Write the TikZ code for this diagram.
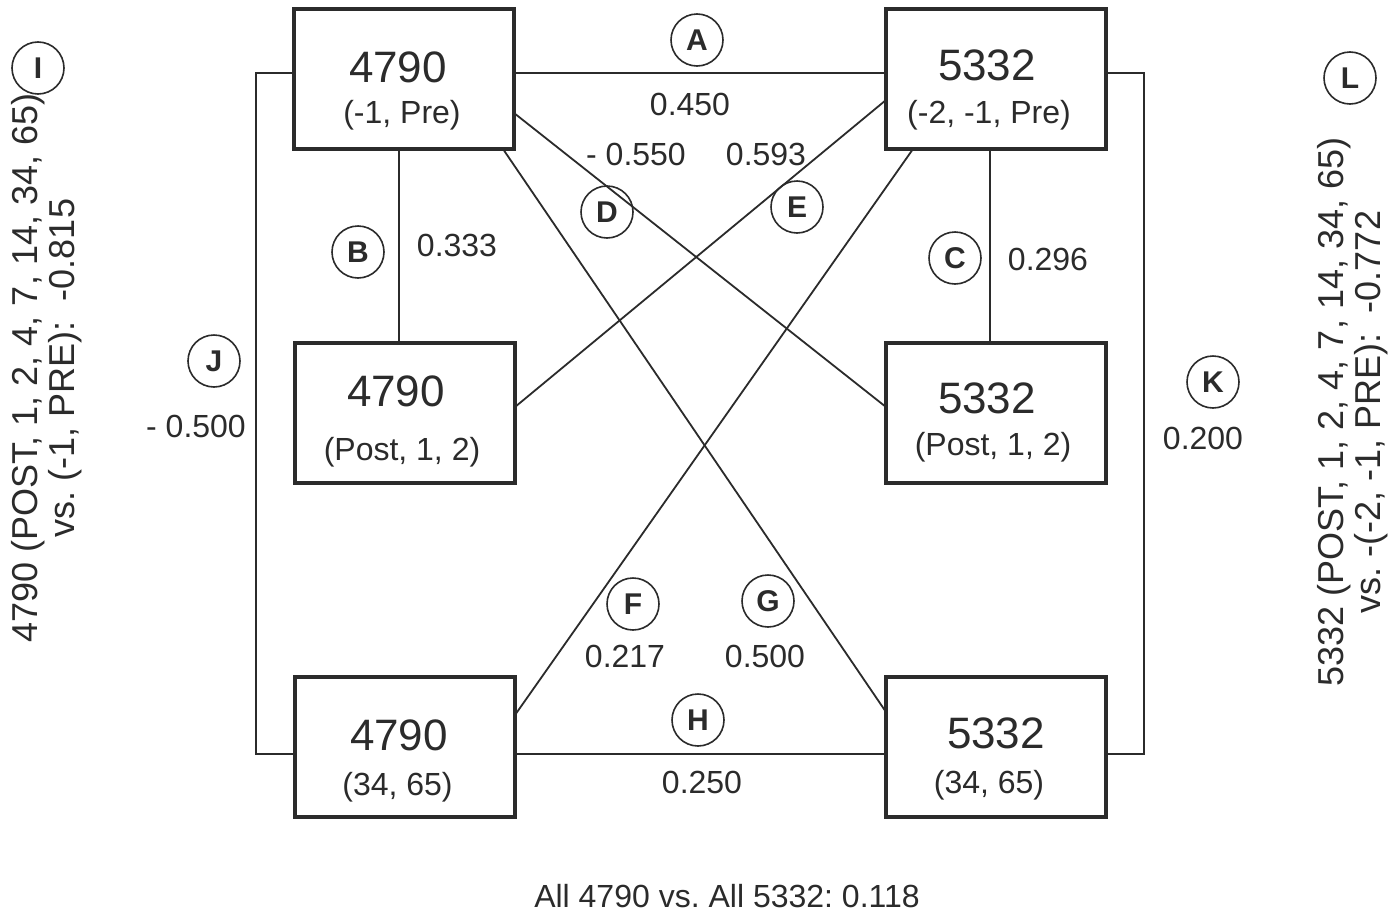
\documentclass[tikz,border=0pt]{standalone}
\usepackage{fontspec}
\setmainfont{Liberation Sans}
\usetikzlibrary{calc}
\definecolor{ink}{HTML}{2B2B2B}
\frenchspacing
\begin{document}
\frenchspacing
\begin{tikzpicture}[x=1pt,y=-1pt,
  box/.style={draw=ink, line width=3.5pt, minimum width=220pt, minimum height=140pt, inner sep=0pt, outer sep=0pt},
  big/.style={anchor=base, inner sep=0pt, text=ink, font=\fontsize{44}{48}\selectfont},
  sub/.style={anchor=base, inner sep=0pt, text=ink, font=\fontsize{32}{36}\selectfont},
  val/.style={anchor=base, inner sep=0pt, text=ink, font=\fontsize{32}{36}\selectfont},
  tag/.style={circle, draw=ink, line width=1.6pt, minimum size=52pt, inner sep=0pt, text=ink, font=\fontsize{30}{32}\selectfont\bfseries},
  link/.style={draw=ink, line width=1.8pt},
  side/.style={rotate=90, align=center, inner sep=0pt, text=ink, font=\fontsize{36}{37}\selectfont},
]
\fill[white] (0,0) rectangle (1395,913);
\useasboundingbox (0,0) rectangle (1395,913);

% boxes
\node[box] (TL) at (404,79) {};
\node[box] (TR) at (996,79) {};
\node[box] (ML) at (405,413) {};
\node[box] (MR) at (996,413) {};
\node[box] (BL) at (405,747) {};
\node[box] (BR) at (996,747) {};

% box texts
\node[big] (tl1) at (398,82) {4790};
\node[sub] (tl2) at (402,123) {(-1, Pre)};
\node[big] (tr1) at (987,80) {5332};
\node[sub] (tr2) at (989,123) {(-2, -1, Pre)};
\node[big] (ml1) at (396,406) {4790};
\node[sub] (ml2) at (402,460) {(Post, 1, 2)};
\node[big] (mr1) at (987,413) {5332};
\node[sub] (mr2) at (993,455) {(Post, 1, 2)};
\node[big] (bl1) at (399,750) {4790};
\node[sub] (bl2) at (397.5,795) {(34, 65)};
\node[big] (br1) at (996,748) {5332};
\node[sub] (br2) at (989,793) {(34, 65)};

% connectors
\draw[link] ($(TL.east)+(0,-6)$) -- ($(TR.west)+(0,-6)$);           % A
\draw[link] ($(TL.south)+(-5,0)$) -- ($(ML.north)+(-6,0)$);         % B
\draw[link] ($(TR.south)+(-6,0)$) -- ($(MR.north)+(-6,0)$);         % C
\draw[link] ($(TL.east)+(0,34)$) -- ($(MR.west)+(0,-6)$);           % D
\draw[link] ($(ML.east)+(0,-6)$) -- ($(TR.west)+(0,21)$);           % E
\draw[link] ($(BL.east)+(0,-32)$) -- ($(TR.south)+(-83,0)$);        % F
\draw[link] ($(TL.south)+(99,0)$) -- ($(BR.west)+(0,-35)$);         % G
\draw[link] ($(BL.east)+(0,7)$) -- ($(BR.west)+(0,7)$);             % H
\draw[link] ($(TL.west)+(0,-6)$) -- ++(-38,0) |- ($(BL.west)+(0,7)$); % J
\draw[link] ($(TR.east)+(0,-6)$) -- ++(38,0) |- ($(BR.east)+(0,7)$);  % K

% circled tags
\node[tag] (cA) at (697,40) {A};
\node[tag] (cB) at (358,252) {B};
\node[tag] (cC) at (955,258) {C};
\node[tag] (cD) at (607,212) {D};
\node[tag] (cE) at (797,207) {E};
\node[tag] (cF) at (633,604) {F};
\node[tag] (cG) at (768,601) {G};
\node[tag] (cH) at (698,720) {H};
\node[tag] (cI) at (38,68) {I};
\node[tag] (cJ) at (214,361) {J};
\node[tag] (cK) at (1213,382) {K};
\node[tag] (cL) at (1350,78) {L};

% values
\node[val] (vA) at (690,115) {0.450};
\node[val] (vD) at (636,165) {- 0.550};
\node[val] (vE) at (766,165) {0.593};
\node[val] (vB) at (457,256) {0.333};
\node[val] (vC) at (1048,270) {0.296};
\node[val] (vJ) at (196,437) {- 0.500};
\node[val] (vK) at (1203,449) {0.200};
\node[val] (vF) at (625,667) {0.217};
\node[val] (vG) at (765,667) {0.500};
\node[val] (vH) at (702,793) {0.250};
\node[val] (all) at (727,907) {All 4790 vs. All 5332: 0.118};

% side texts
\node[side] (tI) at (47,368) {4790 (POST, 1, 2, 4, 7, 14, 34, 65)\\vs. (-1, PRE):\ \ -0.815};
\node[side] (tL) at (1353,412) {5332 (POST, 1, 2, 4, 7, 14, 34, 65)\\vs. -(-2, -1, PRE):\ \ -0.772};
\end{tikzpicture}
\end{document}
